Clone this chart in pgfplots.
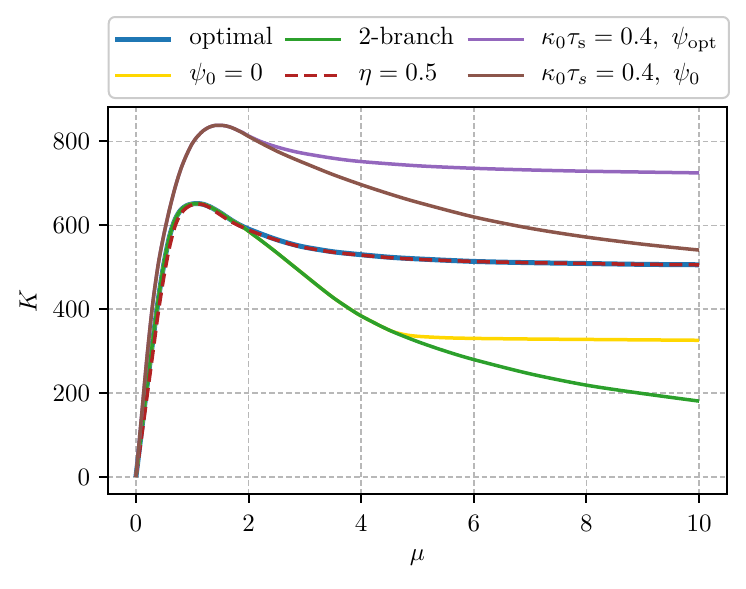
\documentclass[border=0pt]{standalone}
\usepackage{pgfplots}
\pgfplotsset{compat=1.18}
\definecolor{cblue}{RGB}{31,119,180}
\definecolor{cyellow}{RGB}{255,215,0}
\definecolor{cgreen}{RGB}{44,160,44}
\definecolor{cred}{RGB}{178,34,34}
\definecolor{cpurple}{RGB}{148,103,189}
\definecolor{cbrown}{RGB}{140,86,75}
\begin{document}
\begin{tikzpicture}
\path[use as bounding box] (-43.1pt,-37.9pt) rectangle (255.3pt,197.7pt);
\begin{axis}[
  at={(0,0)}, anchor=south west,
  scale only axis, width=247.8pt, height=154.8pt,
  xmin=-0.5, xmax=10.5, ymin=-41, ymax=881.5,
  xtick={0,2,4,6,8,10}, ytick={0,200,400,600,800},
  axis line style={line width=0.8pt},
  tick align=outside, xtick pos=bottom, ytick pos=left,
  major tick length=3.5pt,
  tick style={line width=0.8pt, black},
  xticklabel style={yshift=-1.5pt},
  grid=major,
  major grid style={line width=0.6pt, black!28, dash pattern=on 2.2pt off 1.2pt},
  xlabel={$\mu$}, ylabel={$K$},
  xlabel style={at={(axis description cs:0.5,-0.1647)}, anchor=center},
  ylabel style={at={(axis description cs:-0.1287,0.5)}, anchor=center},
  legend columns=3,
  legend style={at={(0,1)}, anchor=south west, yshift=3.3pt,
    draw=black!20, line width=0.8pt, rounded corners=2.5pt, fill=white,
    inner xsep=1.6pt, inner ysep=4pt, row sep=4.4pt,
    nodes={inner sep=0pt, text height=7pt, text depth=3pt, anchor=west},
    /tikz/every odd column/.append style={column sep=6.3pt},
    /tikz/every even column/.append style={column sep=0pt}},
  legend image code/.code={\draw[#1, overlay] (0pt,0pt) -- (22.4pt,0pt); \path (0pt,0pt) (22.4pt,0pt);},
]
% optimal
\addplot[forget plot, cblue, line width=2pt, smooth] coordinates {
(0,0) (0.1,110) (0.2,220) (0.3,325) (0.4,425) (0.5,510) (0.6,575) (0.7,615)
(0.8,637) (0.9,647) (1.0,651) (1.1,652) (1.2,650) (1.3,645) (1.4,638) (1.5,630)
(1.6,621) (1.7,612) (1.8,604) (1.9,597) (2.0,591) (2.25,578) (2.5,566) (2.75,556)
(3,548) (3.5,537) (4,530) (4.5,524) (5,520) (6,514) (7,511) (8,509) (9,507) (10,506)};
% psi_0 = 0
\addplot[forget plot, cyellow, line width=1.4pt, smooth] coordinates {
(0,0) (0.1,110) (0.2,220) (0.3,325) (0.4,425) (0.5,510) (0.6,575) (0.7,615)
(0.8,637) (0.9,647) (1.0,651) (1.1,652) (1.2,650) (1.3,645) (1.4,638) (1.5,630)
(1.6,621) (1.7,612) (1.8,604) (1.9,596) (2.0,586) (2.25,561) (2.5,535) (2.75,508)
(3,481) (3.25,454) (3.5,428) (3.75,405) (4,384) (4.5,350) (4.75,340) (5,335.5)
(5.5,332) (6,330.5) (7,329) (8,328) (9,327) (10,326)};
% 2-branch
\addplot[forget plot, cgreen, line width=1.4pt, smooth] coordinates {
(0,0) (0.1,110) (0.2,220) (0.3,325) (0.4,425) (0.5,510) (0.6,575) (0.7,615)
(0.8,637) (0.9,647) (1.0,651) (1.1,652) (1.2,650) (1.3,645) (1.4,638) (1.5,630)
(1.6,621) (1.7,612) (1.8,604) (1.9,596) (2.0,586) (2.25,561) (2.5,535) (2.75,508)
(3,481) (3.25,454) (3.5,428) (3.75,405) (4,384) (4.5,350) (5,323) (5.5,300)
(6,280) (7,246) (8,219) (9,199) (10,181)};
% eta = 0.5
\addplot[forget plot, cred, line width=1.4pt, dash pattern=on 5.2pt off 2.5pt, smooth] coordinates {
(0,0) (0.1,95) (0.2,195) (0.3,295) (0.4,395) (0.5,480) (0.6,550) (0.7,600)
(0.8,628) (0.9,642) (1.0,649) (1.1,651) (1.2,649) (1.3,643) (1.4,634) (1.5,625)
(1.6,616) (1.7,608) (1.8,601) (1.9,595) (2.0,589) (2.25,576) (2.5,565) (2.75,555)
(3,547) (3.5,536) (4,529) (4.5,523) (5,519) (6,514) (7,511) (8,509) (9,507) (10,506)};
% kappa tau = 0.4, psi_opt
\addplot[forget plot, cpurple, line width=1.4pt, smooth] coordinates {
(0,0) (0.1,145) (0.2,290) (0.3,415) (0.4,510) (0.5,580) (0.6,640) (0.7,692)
(0.8,735) (0.9,768) (1.0,795) (1.1,813) (1.2,826) (1.3,834) (1.4,838) (1.5,838.5)
(1.6,837) (1.7,833) (1.8,827) (1.9,821) (2.0,813) (2.25,798) (2.5,787) (2.75,778)
(3,771) (3.5,760) (4,752) (5,742) (6,736) (7,732) (8,729) (9,727) (10,725)};
% kappa tau = 0.4, psi_0
\addplot[forget plot, cbrown, line width=1.4pt, smooth] coordinates {
(0,0) (0.1,145) (0.2,290) (0.3,415) (0.4,510) (0.5,580) (0.6,640) (0.7,692)
(0.8,735) (0.9,768) (1.0,795) (1.1,813) (1.2,826) (1.3,834) (1.4,838) (1.5,838.5)
(1.6,837) (1.7,833) (1.8,827) (1.9,820) (2.0,812) (2.25,794) (2.5,777) (2.75,762)
(3,748) (3.5,721) (4,697) (4.5,675) (5,655) (6,620) (7,593) (8,572) (9,555) (10,541)};
% legend, row by row
\addlegendimage{cblue, line width=2pt}
\addlegendentry{\makebox[37.6pt][l]{optimal}}
\addlegendimage{cgreen, line width=1.4pt}
\addlegendentry{\makebox[42.9pt][l]{2-branch}}
\addlegendimage{cpurple, line width=1.4pt}
\addlegendentry{\makebox[73.5pt][l]{$\kappa_0\tau_\mathrm{s}=0.4,\ \psi_\mathrm{opt}$}}
\addlegendimage{cyellow, line width=1.4pt}
\addlegendentry{\makebox[37.6pt][l]{$\psi_0=0$}}
\addlegendimage{cred, line width=1.4pt, dash pattern=on 5.2pt off 2.5pt}
\addlegendentry{\makebox[42.9pt][l]{$\eta=0.5$}}
\addlegendimage{cbrown, line width=1.4pt}
\addlegendentry{\makebox[73.5pt][l]{$\kappa_0\tau_s=0.4,\ \psi_0$}}
\end{axis}
\end{tikzpicture}
\end{document}
